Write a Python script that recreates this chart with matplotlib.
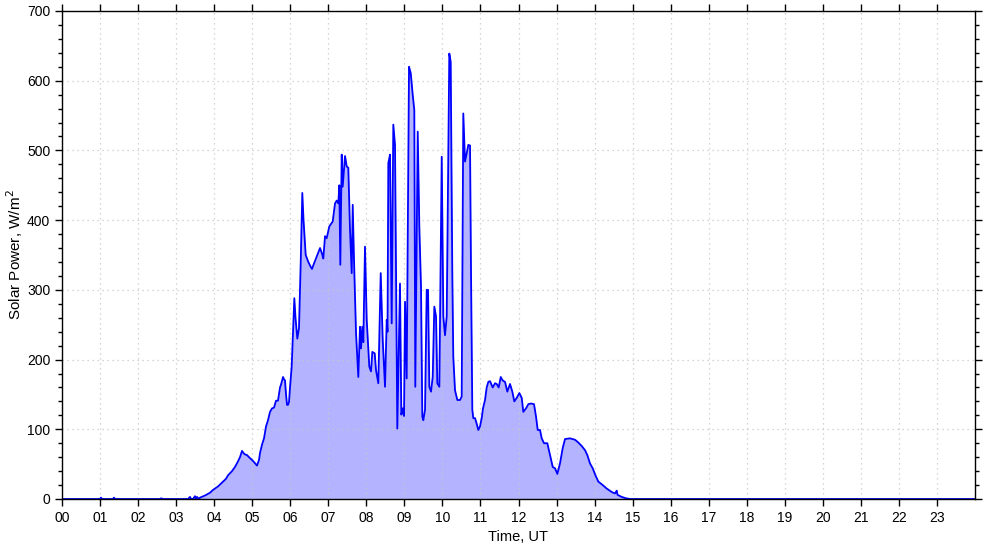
import matplotlib
matplotlib.use('Agg')
import matplotlib.pyplot as plt
from matplotlib.ticker import MultipleLocator

plt.rcParams['font.family'] = ['Liberation Sans', 'DejaVu Sans']

# time of day in hours (UT) and solar power in W/m^2
hours = [0.0, 1.0, 1.025, 1.052, 1.341, 1.367, 1.393, 2.576, 2.603, 2.655,
         3.312, 3.365, 3.391, 3.444, 3.496, 3.523, 3.549, 3.601, 3.628, 3.759,
         3.891, 3.969, 4.101, 4.232, 4.311, 4.364, 4.469, 4.548, 4.627, 4.679,
         4.732, 4.784, 4.811, 4.863, 4.916, 4.995, 5.047, 5.126, 5.179, 5.205,
         5.258, 5.310, 5.363, 5.415, 5.468, 5.521, 5.573, 5.626, 5.678, 5.731,
         5.757, 5.810, 5.836, 5.862, 5.889, 5.915, 5.941, 5.968, 5.994, 6.038,
         6.107, 6.138, 6.186, 6.230, 6.275, 6.317, 6.349, 6.406, 6.475, 6.538,
         6.572, 6.612, 6.677, 6.730, 6.783, 6.835, 6.869, 6.914, 6.958, 7.027,
         7.116, 7.177, 7.221, 7.263, 7.290, 7.316, 7.353, 7.379, 7.440, 7.484,
         7.526, 7.571, 7.616, 7.642, 7.676, 7.729, 7.789, 7.834, 7.860, 7.894,
         7.921, 7.965, 8.010, 8.078, 8.123, 8.157, 8.220, 8.254, 8.315, 8.378,
         8.431, 8.491, 8.536, 8.557, 8.578, 8.623, 8.667, 8.709, 8.754, 8.814,
         8.885, 8.920, 8.956, 8.991, 9.017, 9.061, 9.122, 9.167, 9.219, 9.261,
         9.287, 9.351, 9.393, 9.437, 9.472, 9.498, 9.543, 9.587, 9.622, 9.656,
         9.700, 9.745, 9.787, 9.832, 9.866, 9.919, 9.982, 10.024, 10.068, 10.113,
         10.181, 10.218, 10.260, 10.286, 10.331, 10.392, 10.463, 10.507, 10.549, 10.594,
         10.639, 10.681, 10.726, 10.752, 10.786, 10.812, 10.857, 10.901, 10.944, 10.988,
         11.033, 11.067, 11.120, 11.164, 11.206, 11.251, 11.322, 11.382, 11.427, 11.480,
         11.533, 11.585, 11.646, 11.706, 11.777, 11.838, 11.890, 11.953, 12.022, 12.085,
         12.127, 12.198, 12.258, 12.329, 12.408, 12.461, 12.505, 12.566, 12.610, 12.671,
         12.758, 12.829, 12.900, 12.960, 13.021, 13.091, 13.162, 13.223, 13.354, 13.486,
         13.573, 13.662, 13.749, 13.809, 13.880, 13.951, 14.030, 14.098, 14.214, 14.319,
         14.451, 14.537, 14.582, 14.603, 14.713, 14.826, 14.932, 24.0]

power = [0, 0, 2, 0, 0, 2, 0, 0, 1, 0,
         0, 3, 0, 0, 4, 0, 3, 0, 2, 5,
         9, 13, 18, 25, 29, 34, 40, 46, 54, 60,
         69, 65, 64, 63, 60, 56, 53, 48, 56, 66,
         78, 87, 104, 113, 125, 130, 131, 141, 141, 160,
         164, 175, 172, 170, 150, 135, 135, 139, 160, 190,
         288, 260, 230, 245, 339, 439, 400, 350, 340, 333,
         330, 336, 345, 352, 360, 352, 345, 377, 374, 391,
         398, 424, 428, 424, 450, 336, 494, 448, 492, 477,
         475, 386, 324, 422, 343, 238, 175, 247, 216, 247,
         225, 362, 257, 190, 183, 211, 209, 185, 166, 324,
         228, 161, 257, 240, 482, 494, 252, 537, 508, 101,
         309, 121, 130, 119, 283, 173, 620, 611, 580, 558,
         161, 527, 391, 305, 118, 113, 128, 300, 300, 161,
         154, 175, 276, 262, 166, 161, 491, 262, 235, 262,
         639, 627, 324, 204, 156, 142, 142, 147, 553, 484,
         496, 508, 507, 324, 128, 116, 116, 108, 99, 104,
         116, 130, 142, 160, 168, 169, 160, 166, 165, 160,
         175, 170, 168, 154, 165, 154, 140, 145, 152, 145,
         125, 130, 136, 137, 136, 118, 99, 99, 87, 80,
         80, 63, 46, 44, 36, 51, 73, 86, 87, 85,
         81, 76, 70, 63, 51, 44, 33, 25, 20, 15,
         10, 8, 12, 6, 3, 1, 0, 0]

hour_labels = ['%02d' % h for h in range(24)]

fig = plt.figure(figsize=(9.85, 5.47), dpi=100)
ax = fig.add_axes([62 / 985, 48 / 547, 913 / 985, 488 / 547])

ax.fill_between(hours, power, 0, color='#b3b3ff', linewidth=0)
ax.plot(hours, power, color='#0000ff', linewidth=1.3)

ax.set_xlim(0, 24)
ax.set_ylim(0, 700)
ax.set_xticks(range(24))
ax.set_xticklabels(hour_labels)
ax.yaxis.set_major_locator(MultipleLocator(100))
ax.yaxis.set_minor_locator(MultipleLocator(20))

ax.grid(True, which='major', color='#c8c8c8', linestyle=(0, (1, 3)), linewidth=0.9)
ax.tick_params(which='both', direction='out', top=True, right=True,
               labeltop=False, labelright=False, labelsize=10, color='black')
ax.tick_params(which='major', length=5, width=1)
ax.tick_params(which='minor', length=3, width=1)
ax.tick_params(axis='x', which='minor', top=False, bottom=False)

for s in ax.spines.values():
    s.set_linewidth(1)

ax.set_xlabel('Time, UT', fontsize=10.5)
ax.set_ylabel('Solar Power, W/m$^2$', fontsize=11)
ax.yaxis.set_label_coords(-0.0405, 0.5)

fig.savefig('out.png', dpi=100)
